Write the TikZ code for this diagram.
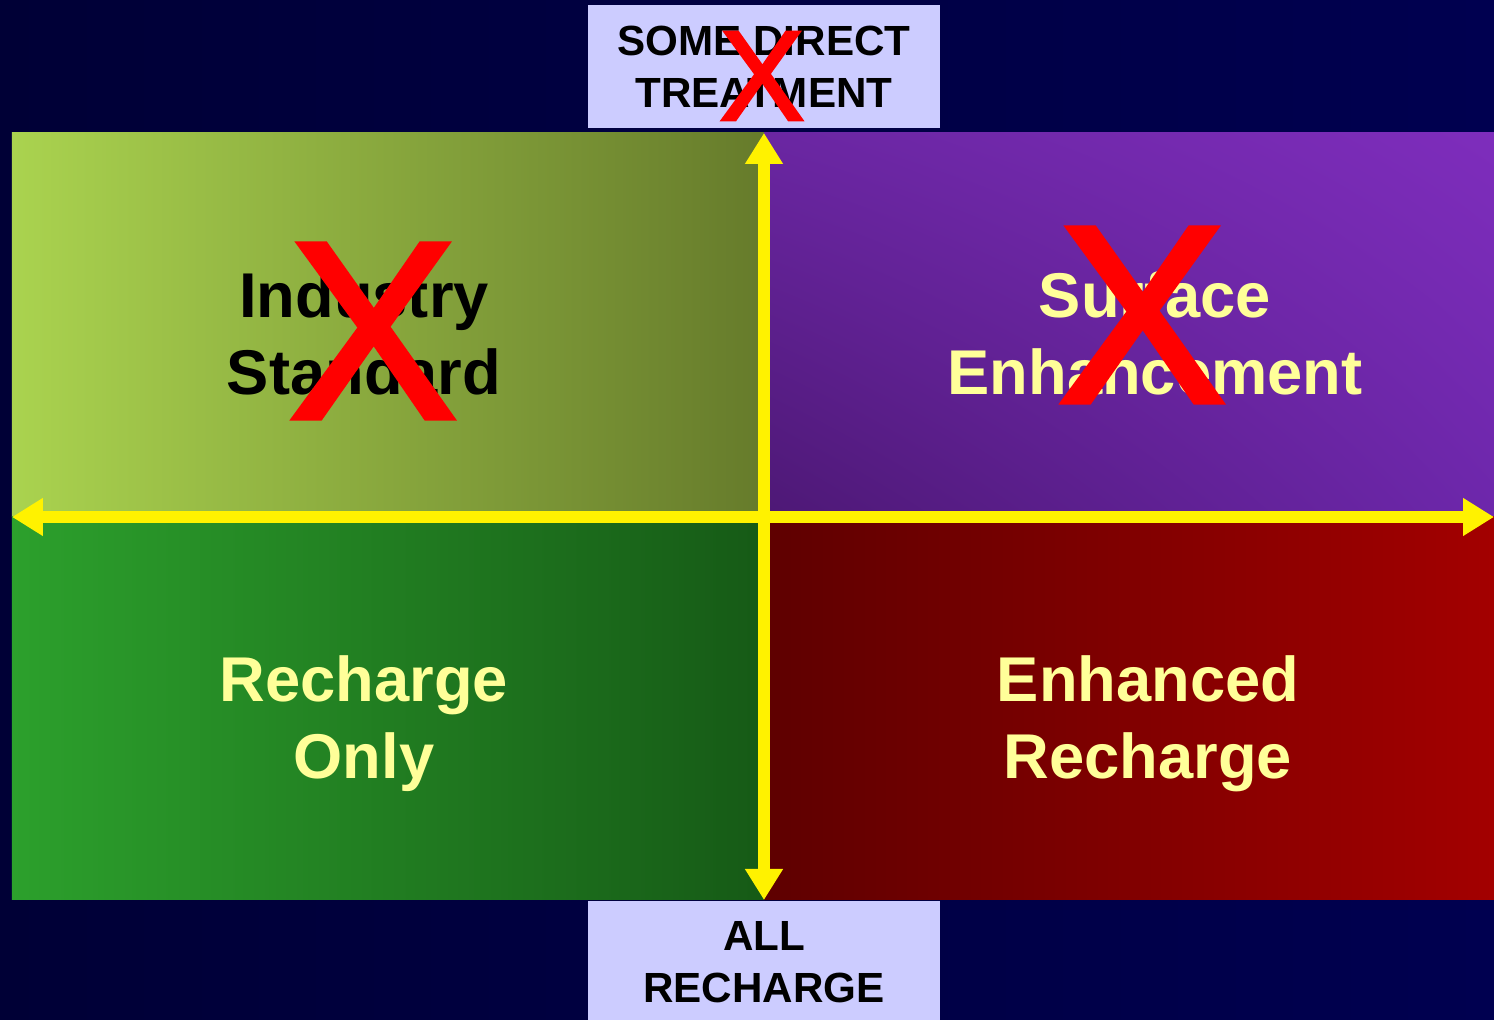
\documentclass[tikz,border=0pt]{standalone}
\usepackage{fontspec}
\setmainfont{Liberation Sans}
\newfontfamily\crossfont[FakeBold=2]{Liberation Sans}
\usepackage{tikz}
\usetikzlibrary{arrows.meta}
\usetikzlibrary{positioning}
\usetikzlibrary{shadings}
\definecolor{navy}{HTML}{000050}
\definecolor{navydark}{HTML}{000036}
\definecolor{lavender}{HTML}{CCCCFF}
\definecolor{paleyellow}{HTML}{FFFF99}
\definecolor{crossred}{HTML}{FF0000}
\definecolor{limeleft}{RGB}{170,211,79}
\definecolor{limeright}{RGB}{102,123,43}
\definecolor{purpleul}{RGB}{106,38,162}
\definecolor{purpleur}{RGB}{126,45,188}
\definecolor{purplell}{RGB}{77,24,117}
\definecolor{purplelr}{RGB}{109,39,171}
\definecolor{greenleft}{RGB}{44,160,44}
\definecolor{greenright}{RGB}{22,90,22}
\definecolor{redleft}{RGB}{94,0,0}
\definecolor{redright}{RGB}{163,0,0}
\begin{document}
\begin{tikzpicture}[line cap=butt,line join=miter,>={Triangle[length=0.31cm,width=0.36cm]},x=1.0cm,y=-1.0cm,
  quadtext/.style={align=center,font=\fontsize{18}{21.8}\selectfont\bfseries,inner sep=0pt},
  axislabel/.style={align=center,font=\fontsize{12}{14.9}\selectfont\bfseries,inner sep=0pt},
  cross/.style={text=crossred,font=\crossfont\fontsize{72}{72}\selectfont,inner sep=0pt},
  axis/.style={yellow,line width=0.12cm,<->}]
\useasboundingbox (0,0) rectangle (14.94,10.2);
\shade[left color=navydark,right color=navy] (0,0) rectangle (14.94,10.2);
% quadrants
\shade[left color=limeleft,right color=limeright] (0.12,1.33) rectangle (7.64,5.17);
\shade[upper left=purpleul,upper right=purpleur,lower left=purplell,lower right=purplelr] (7.64,1.33) rectangle (14.94,5.17);
\shade[left color=greenleft,right color=greenright] (0.12,5.17) rectangle (7.64,9.0);
\shade[left color=redleft,right color=redright] (7.64,5.17) rectangle (14.94,9.0);
% axis labels
\fill[lavender] (5.88,0.05) rectangle (9.40,1.28);
\fill[lavender] (5.88,9.01) rectangle (9.40,10.2);
\node[axislabel] (direct) at (7.64,0.67) {SOME DIRECT\\TREATMENT};
\node[axislabel] (recharge) at (7.64,9.625) {ALL\\RECHARGE};
% axes
\coordinate (top) at (7.64,1.33);
\coordinate (bottom) at (7.64,9.0);
\coordinate (left) at (0.12,5.17);
\coordinate (right) at (14.94,5.17);
\draw[axis] (left) -- (right);
\draw[axis] (top) -- (bottom);
% quadrant names
\node[quadtext] (industry) at (3.64,3.335) {Industry\\Standard};
\node[quadtext,text=paleyellow] (surface) at (11.55,3.335) {Surface\\Enhancement};
\node[quadtext,text=paleyellow] (only) at (3.64,7.235) {Recharge\\Only};
\node[quadtext,text=paleyellow] (enhanced) at (11.48,7.235) {Enhanced\\Recharge};
% crossed out
\node[cross] (xindustry) at (3.73,3.31) {X};
\node[cross] (xsurface) at (11.42,3.15) {X};
\node[cross,font=\crossfont\fontsize{36.5}{36.5}\selectfont] (xdirect) at (7.62,0.76) {X};
\end{tikzpicture}
\end{document}
